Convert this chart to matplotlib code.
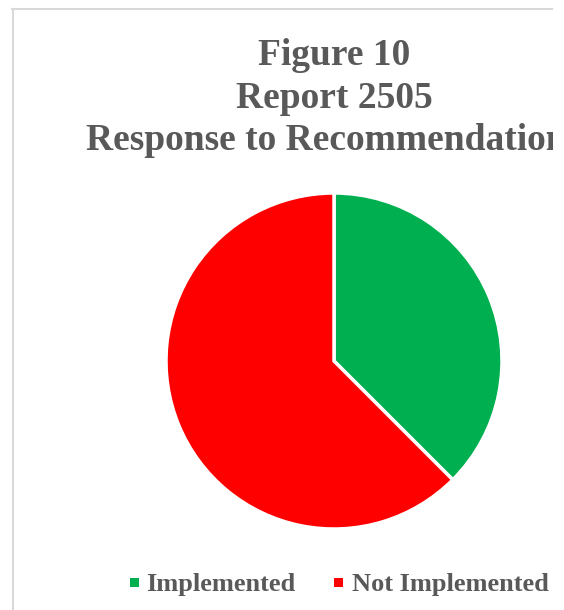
import matplotlib
matplotlib.use("Agg")
import matplotlib.pyplot as plt
from matplotlib.patches import Rectangle

labels = ["Implemented", "Not Implemented"]
values = [3, 5]
colors = ["#00B050", "#FF0000"]
title_lines = ["Figure 10", "Report 2505", "Response to Recommendations"]

W, H = 564, 610
fig = plt.figure(figsize=(W/100, H/100), dpi=100)
fig.patch.set_facecolor("white")

# pie axes: center (334,361), radius 168
cx, cy, r = 334, 361, 168
ax = fig.add_axes([(cx - r)/W, 1 - (cy + r)/H, 2*r/W, 2*r/H])
ax.pie(values, colors=colors, startangle=90, counterclock=False,
       wedgeprops=dict(edgecolor="white", linewidth=2.5), radius=1)
ax.set_xlim(-1, 1); ax.set_ylim(-1, 1)
ax.set_aspect("equal")
ax.axis("off")

serif = ["Liberation Serif", "DejaVu Serif"]
tc = "#595959"
ys = [65, 108, 150]
for t, y in zip(title_lines, ys):
    fig.text(cx/W, 1 - y/H, t, ha="center", va="baseline", fontsize=27,
             fontweight="bold", color=tc, family=serif)

# legend
leg_y = 591
items = [(134.5, 146), (338.5, 352)]
for (sx, tx), lab, col in zip(items, labels, colors):
    fig.patches.append(Rectangle(((sx - 4.5)/W, 1 - 587/H), 9/W, 9/H,
                                 transform=fig.transFigure, facecolor=col,
                                 edgecolor="none"))
    fig.text(tx/W, 1 - leg_y/H, lab, ha="left", va="baseline", fontsize=19,
             fontweight="bold", color=tc, family=serif)

# chart frame (top and left edges visible)
fig.add_artist(plt.Line2D([12/W, 553/W], [1 - 9/H, 1 - 9/H], color="#D9D9D9", lw=1.5))
fig.add_artist(plt.Line2D([13/W, 13/W], [1 - 9/H, 0], color="#D9D9D9", lw=1.5))
# clip right side
fig.add_artist(Rectangle((553/W, 0), 1, 1, transform=fig.transFigure,
                         facecolor="white", edgecolor="none", zorder=10))

fig.savefig("out.png", dpi=100)
